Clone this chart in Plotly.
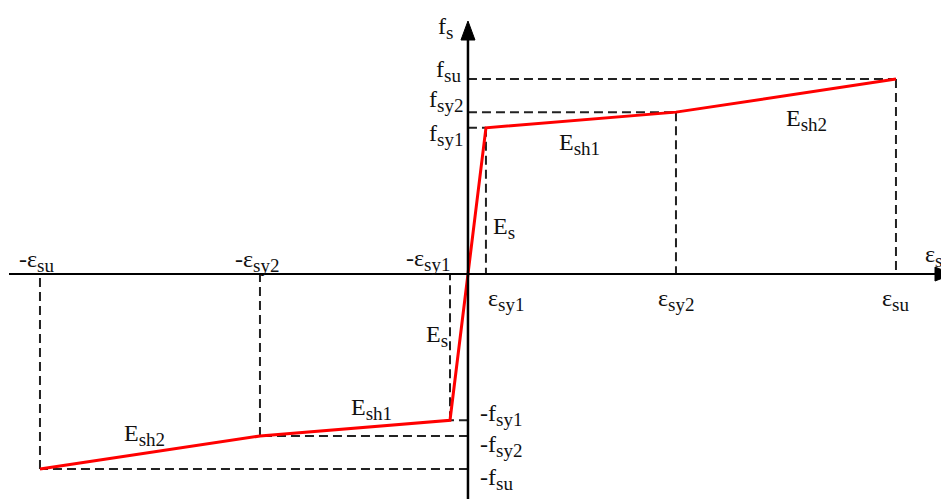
import plotly.graph_objects as go

# Trilinear steel stress-strain model (symmetric in tension/compression)
eps_values = [0.0021, 0.0243, 0.0500]      # yield 1, yield 2, ultimate strain
stress_values = [420.0, 465.0, 560.0]      # f_sy1, f_sy2, f_su (MPa)

SUB = '<sub><span style="font-size:19px">{}</span></sub>'
eps_labels = ["ε" + SUB.format(s) for s in ("sy1", "sy2", "su")]
neg_eps_labels = ["-ε" + SUB.format(s) for s in ("sy1", "sy2", "su")]
f_labels = ["f" + SUB.format(s) for s in ("sy1", "sy2", "su")]
neg_f_labels = ["-f" + SUB.format(s) for s in ("sy1", "sy2", "su")]
slope_labels = ["E" + SUB.format(s) for s in ("s", "sh1", "sh2")]

W, H = 941, 499
X_RANGE = [-0.05467, 0.05526]
Y_RANGE = [-646.0, 787.0]

RED = "#ff0000"
DASH_COLOR = "#222222"
AXIS_COLOR = "#000000"
FONT = "Liberation Serif"

e1, e2, eu = eps_values
f1, f2, fu = stress_values

fig = go.Figure()

# dashed reference lines (tension side then compression side)
dash_style = dict(color=DASH_COLOR, width=2, dash="9px,5px")
for sgn in (1, -1):
    for e, f in zip(eps_values, stress_values):
        # horizontal: from the vertical axis to the point
        fig.add_trace(go.Scatter(x=[0, sgn * e], y=[sgn * f, sgn * f], mode="lines",
                                 line=dash_style, hoverinfo="skip", showlegend=False))
        # vertical: from the point to the strain axis
        fig.add_trace(go.Scatter(x=[sgn * e, sgn * e], y=[sgn * f, 0], mode="lines",
                                 line=dash_style, hoverinfo="skip", showlegend=False))

# the stress-strain curve
curve_x = [-eu, -e2, -e1, e1, e2, eu]
curve_y = [-fu, -f2, -f1, f1, f2, fu]
fig.add_trace(go.Scatter(x=curve_x, y=curve_y, mode="lines",
                         line=dict(color=RED, width=3),
                         hoverinfo="skip", showlegend=False))

shapes = []
# horizontal (strain) axis with arrow at the right
shapes.append(dict(type="line", xref="paper", yref="y", x0=9 / W, x1=936 / W, y0=0, y1=0,
                   line=dict(color=AXIS_COLOR, width=2)))
shapes.append(dict(type="path", xref="paper", yref="y",
                   path=f"M {935 / W},-20 L {953 / W},0 L {935 / W},20 Z",
                   fillcolor=AXIS_COLOR, line=dict(color=AXIS_COLOR, width=1)))
# vertical (stress) axis with arrow at the top
shapes.append(dict(type="line", xref="x", yref="paper", x0=0, x1=0, y0=0, y1=1 - 36 / H,
                   line=dict(color=AXIS_COLOR, width=2.5)))
dx = (X_RANGE[1] - X_RANGE[0]) / W * 7
shapes.append(dict(type="path", xref="x", yref="paper",
                   path=f"M {-dx},{1 - 40 / H} L 0,{1 - 21 / H} L {dx},{1 - 40 / H} Z",
                   fillcolor=AXIS_COLOR, line=dict(color=AXIS_COLOR, width=1)))

ann = []
font = dict(family=FONT, size=24, color="#111111")


def label(text, x, y, xshift=0, yshift=0, xanchor="center", yanchor="middle",
          xref="x", yref="y"):
    ann.append(dict(text=text, x=x, y=y, xref=xref, yref=yref, xshift=xshift, yshift=yshift,
                    xanchor=xanchor, yanchor=yanchor, showarrow=False, font=font))


# strain labels
label(eps_labels[0], e1, 0, xshift=20, yshift=-26)
label(eps_labels[1], e2, 0, xshift=0, yshift=-26)
label(eps_labels[2], eu, 0, xshift=0, yshift=-26)
label(neg_eps_labels[0], -e1, 0, xshift=-22, yshift=14)
label(neg_eps_labels[1], -e2, 0, xshift=-3, yshift=13)
label(neg_eps_labels[2], -eu, 0, xshift=-3, yshift=13)

# stress labels
label(f_labels[2], 0, fu, xshift=-5, yshift=8, xanchor="right")
label(f_labels[1], 0, f2, xshift=-3, yshift=11, xanchor="right")
label(f_labels[0], 0, f1, xshift=-3, yshift=-7, xanchor="right")
label(neg_f_labels[0], 0, -f1, xshift=10, yshift=5, xanchor="left")
label(neg_f_labels[1], 0, -f2, xshift=10, yshift=-10, xanchor="left")
label(neg_f_labels[2], 0, -fu, xshift=10, yshift=-10, xanchor="left")

# moduli labels
label(slope_labels[0], e1, 0, xshift=18, yshift=46)
label(slope_labels[0], -e1, 0, xshift=-13, yshift=-62)
label(slope_labels[1], (e1 + e2) / 2, (f1 + f2) / 2, xshift=-1, yshift=-24)
label(slope_labels[1], -(e1 + e2) / 2, -(f1 + f2) / 2, xshift=17, yshift=19)
label(slope_labels[2], (e2 + eu) / 2, (f2 + fu) / 2, xshift=21, yshift=-24)
label(slope_labels[2], -(e2 + eu) / 2, -(f2 + fu) / 2, xshift=-5, yshift=18)

# axis titles
label("f" + SUB.format("s"), 0, 1 - 28 / H, xshift=-22, yref="paper")
label("ε" + SUB.format("s"), 923 / W, 0, yshift=18, xanchor="left", xref="paper")

fig.update_layout(
    width=W, height=H,
    margin=dict(l=0, r=0, t=0, b=0),
    paper_bgcolor="white", plot_bgcolor="white",
    xaxis=dict(range=X_RANGE, visible=False, fixedrange=True),
    yaxis=dict(range=Y_RANGE, visible=False, fixedrange=True),
    shapes=shapes,
    annotations=ann,
    showlegend=False,
)

fig.write_html("out.html")
